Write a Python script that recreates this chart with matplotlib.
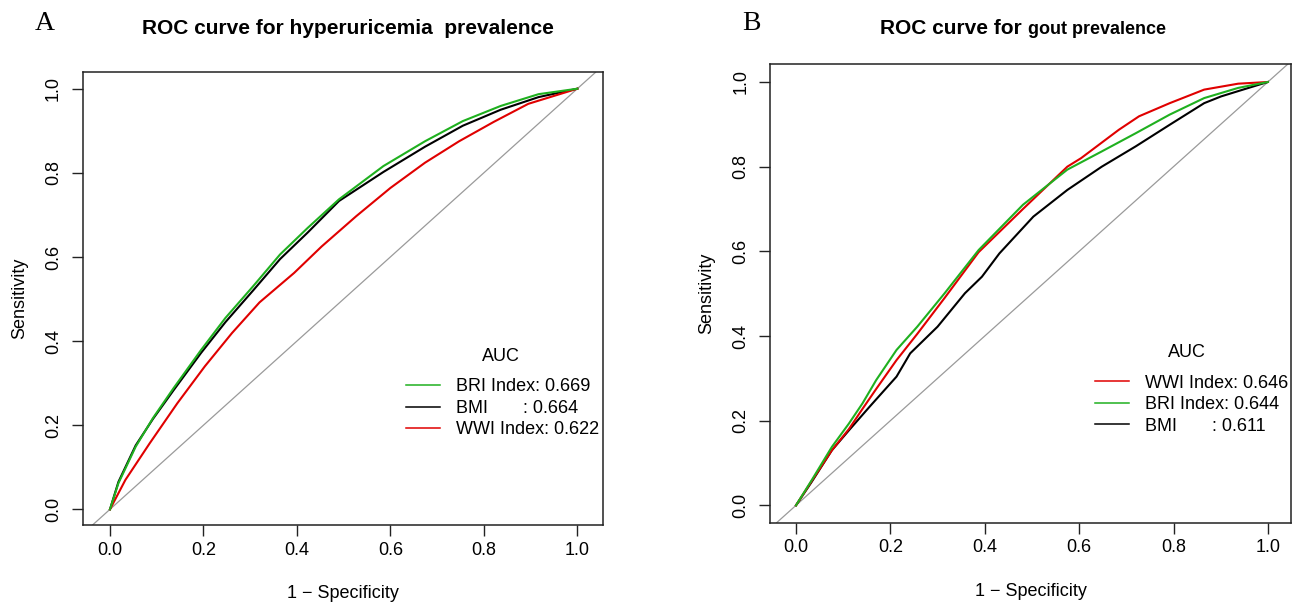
import matplotlib
matplotlib.use('Agg')
import matplotlib.pyplot as plt
from matplotlib.lines import Line2D

plt.rcParams['font.family'] = ['Liberation Sans', 'DejaVu Sans']

# --- Colours ---
RED = '#e00000'
GREEN = '#1fb01f'
BLACK = '#000000'

# --- Panel A: hyperuricemia (1 - specificity, sensitivity) ---
a_bri_x = [0, 0.018, 0.055, 0.092, 0.136, 0.195, 0.247, 0.306, 0.364, 0.423, 0.490, 0.585, 0.674, 0.755, 0.836, 0.917, 1.0]
a_bri_y = [0, 0.062, 0.149, 0.217, 0.288, 0.379, 0.455, 0.530, 0.606, 0.669, 0.737, 0.816, 0.875, 0.923, 0.959, 0.987, 1.0]
a_bmi_x = [0, 0.018, 0.055, 0.092, 0.136, 0.195, 0.247, 0.306, 0.364, 0.423, 0.490, 0.585, 0.674, 0.755, 0.836, 0.917, 1.0]
a_bmi_y = [0, 0.065, 0.152, 0.215, 0.283, 0.372, 0.445, 0.520, 0.595, 0.658, 0.733, 0.802, 0.862, 0.912, 0.950, 0.980, 1.0]
a_wwi_x = [0, 0.033, 0.085, 0.144, 0.203, 0.261, 0.320, 0.394, 0.453, 0.527, 0.600, 0.674, 0.747, 0.821, 0.895, 1.0]
a_wwi_y = [0, 0.070, 0.157, 0.252, 0.340, 0.419, 0.492, 0.562, 0.625, 0.697, 0.764, 0.824, 0.875, 0.921, 0.964, 1.0]

# --- Panel B: gout ---
b_bri_x = [0, 0.033, 0.076, 0.112, 0.141, 0.170, 0.213, 0.257, 0.315, 0.387, 0.481, 0.575, 0.648, 0.720, 0.792, 0.865, 0.937, 1.0]
b_bri_y = [0, 0.059, 0.138, 0.193, 0.241, 0.296, 0.367, 0.422, 0.501, 0.603, 0.710, 0.793, 0.836, 0.879, 0.923, 0.962, 0.986, 1.0]
b_wwi_x = [0, 0.033, 0.076, 0.112, 0.141, 0.170, 0.213, 0.257, 0.315, 0.387, 0.481, 0.575, 0.604, 0.684, 0.727, 0.792, 0.865, 0.937, 1.0]
b_wwi_y = [0, 0.057, 0.130, 0.180, 0.228, 0.275, 0.343, 0.405, 0.490, 0.598, 0.700, 0.800, 0.820, 0.887, 0.919, 0.950, 0.982, 0.996, 1.0]
b_bmi_x = [0, 0.033, 0.076, 0.112, 0.156, 0.213, 0.242, 0.300, 0.358, 0.394, 0.431, 0.503, 0.575, 0.648, 0.720, 0.792, 0.865, 0.901, 0.959, 1.0]
b_bmi_y = [0, 0.055, 0.130, 0.177, 0.233, 0.304, 0.359, 0.422, 0.501, 0.540, 0.595, 0.682, 0.745, 0.800, 0.848, 0.899, 0.950, 0.966, 0.986, 1.0]

ticks = [0.0, 0.2, 0.4, 0.6, 0.8, 1.0]
tick_labels = ['0.0', '0.2', '0.4', '0.6', '0.8', '1.0']

legend_a = [('BRI Index: 0.669', GREEN), ('BMI       : 0.664', BLACK), ('WWI Index: 0.622', RED)]
legend_b = [('WWI Index: 0.646', RED), ('BRI Index: 0.644', GREEN), ('BMI       : 0.611', BLACK)]

W, H = 1295, 602
fig = plt.figure(figsize=(W / 100, H / 100), dpi=100)

# axes boxes in pixels (left, top, right, bottom)
ax_a = fig.add_axes([82.7 / W, (H - 525) / H, 520 / W, 452.7 / H])
ax_b = fig.add_axes([770 / W, (H - 522.7) / H, 521 / W, 458.7 / H])


def style_axes(ax, xlim, ylim):
    ax.set_xlim(*xlim)
    ax.set_ylim(*ylim)
    ax.axline((0, 0), (1, 1), color='#9a9a9a', lw=0.9, zorder=1)
    ax.set_xticks(ticks)
    ax.set_xticklabels(tick_labels)
    ax.set_yticks(ticks)
    ax.set_yticklabels(tick_labels, rotation=90, va='center')
    ax.tick_params(direction='out', length=8, width=1.0, labelsize=13, color='#222222')
    ax.tick_params(axis='x', pad=4)
    ax.tick_params(axis='y', pad=7)
    for s in ax.spines.values():
        s.set_linewidth(1.1)
        s.set_color('#222222')
    ax.set_xlabel('1 \u2212 Specificity', fontsize=13, labelpad=19)
    ax.set_ylabel('Sensitivity', fontsize=13, labelpad=12)


def add_legend(ax, entries, x, y, auc_x, auc_y):
    handles = [Line2D([0], [0], color=c, lw=1.1) for _, c in entries]
    labels = [t for t, _ in entries]
    ax.legend(handles, labels, loc='upper left', bbox_to_anchor=(x, y),
              frameon=False, fontsize=13, handlelength=1.9, handletextpad=0.85,
              labelspacing=0.25, borderpad=0, borderaxespad=0)
    ax.text(auc_x, auc_y, 'AUC', transform=ax.transAxes, fontsize=13,
            ha='center', va='center')


# Panel A
ax_a.plot(a_bmi_x, a_bmi_y, color=BLACK, lw=1.5, zorder=3)
ax_a.plot(a_wwi_x, a_wwi_y, color=RED, lw=1.5, zorder=3)
ax_a.plot(a_bri_x, a_bri_y, color=GREEN, lw=1.5, zorder=4)
style_axes(ax_a, (-0.0584, 1.0543), (-0.0373, 1.039))
add_legend(ax_a, legend_a, 0.622, 0.324, 0.805, 0.372)

# Panel B
ax_b.plot(b_bmi_x, b_bmi_y, color=BLACK, lw=1.5, zorder=3)
ax_b.plot(b_wwi_x, b_wwi_y, color=RED, lw=1.5, zorder=3)
ax_b.plot(b_bri_x, b_bri_y, color=GREEN, lw=1.5, zorder=4)
style_axes(ax_b, (-0.0551, 1.049), (-0.041, 1.0425))
add_legend(ax_b, legend_b, 0.624, 0.323, 0.801, 0.370)

# titles
base = 1 - 33.5 / H
fig.text(347.5 / W, base, 'ROC curve for hyperuricemia  prevalence', fontsize=15,
         fontweight='bold', ha='center', va='baseline')
fig.text(1022 / W, base, 'ROC curve for', fontsize=15, fontweight='bold',
         ha='right', va='baseline')
fig.text(1028.5 / W, base, 'gout prevalence', fontsize=13, fontweight='bold',
         ha='left', va='baseline')

# panel letters
fig.text(45 / W, 1 - 23 / H, 'A', family='Liberation Serif', fontsize=20,
         ha='center', va='center')
fig.text(751 / W, 1 - 23 / H, 'B', family='Liberation Serif', fontsize=20,
         ha='center', va='center')

fig.savefig('out.png', dpi=100)
